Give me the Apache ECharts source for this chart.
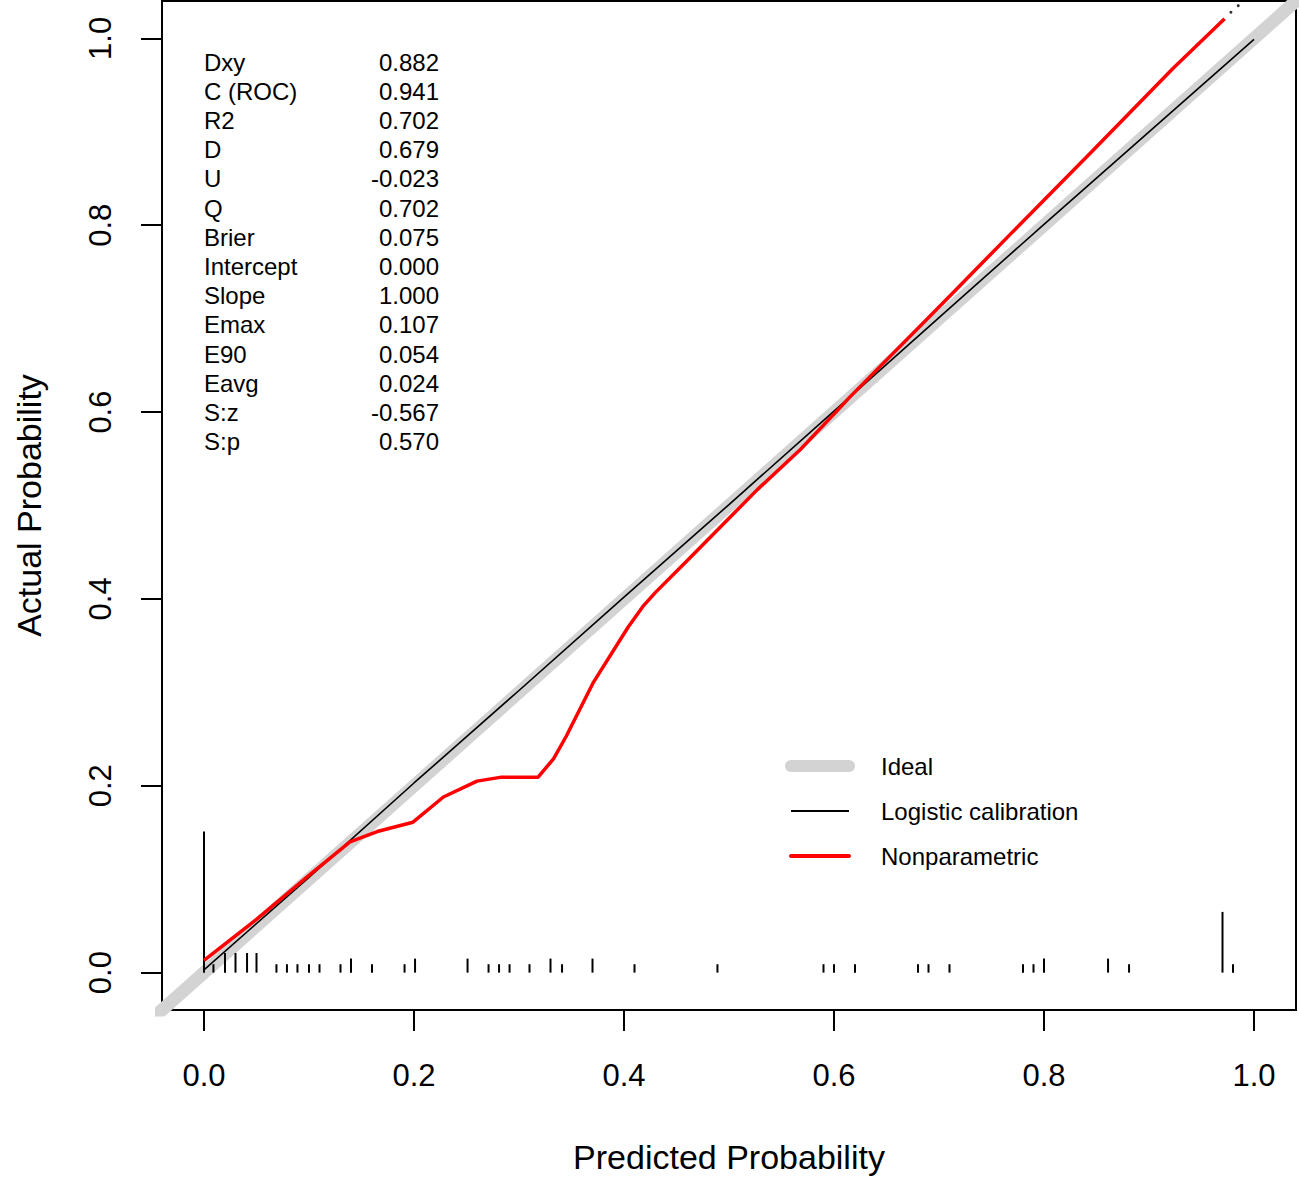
<!DOCTYPE html>
<html><head><meta charset="utf-8">
<script src="https://cdn.jsdelivr.net/npm/echarts@6/dist/echarts.min.js"></script>
<style>html,body{margin:0;padding:0;background:#fff}#c{width:1299px;height:1179px}</style>
</head><body><div id="c"></div>
<script>
// ---- data ----
const tickValues = [0, 0.2, 0.4, 0.6, 0.8, 1.0];
const idealX = [-0.05, 1.05];
const idealY = [-0.05, 1.05];
const logisticX = [0, 0.1, 0.2, 0.3, 0.4, 0.5, 0.6, 0.7, 0.8, 0.9, 1.0];
const logisticY = [0.003, 0.102, 0.203, 0.302, 0.402, 0.501, 0.601, 0.701, 0.801, 0.9, 0.999];
const nonparX = [0, 0.05, 0.1, 0.139, 0.165, 0.199, 0.228, 0.26, 0.282, 0.318, 0.333, 0.345, 0.371, 0.404, 0.418, 0.43, 0.461, 0.527, 0.568, 0.606, 0.615, 0.704, 0.765, 0.844, 0.923, 0.972];
const nonparY = [0.013, 0.057, 0.104, 0.14, 0.151, 0.161, 0.188, 0.205, 0.209, 0.209, 0.229, 0.253, 0.311, 0.37, 0.392, 0.407, 0.442, 0.517, 0.56, 0.605, 0.616, 0.717, 0.787, 0.877, 0.968, 1.021];
const tailX = [0.978, 0.985];
const tailY = [1.028, 1.035];
const rugX = [0.0, 0.009, 0.02, 0.03, 0.041, 0.05, 0.069, 0.079, 0.089, 0.1, 0.11, 0.13, 0.14, 0.16, 0.191, 0.201, 0.251, 0.271, 0.281, 0.291, 0.31, 0.33, 0.341, 0.37, 0.41, 0.489, 0.59, 0.6, 0.62, 0.68, 0.69, 0.71, 0.78, 0.79, 0.80, 0.861, 0.881, 0.97, 0.98];
const rugH = [0.151, 0.009, 0.021, 0.021, 0.021, 0.021, 0.009, 0.009, 0.009, 0.009, 0.009, 0.009, 0.015, 0.009, 0.009, 0.015, 0.015, 0.009, 0.009, 0.009, 0.009, 0.015, 0.009, 0.015, 0.009, 0.009, 0.009, 0.009, 0.009, 0.009, 0.009, 0.009, 0.009, 0.009, 0.015, 0.015, 0.009, 0.065, 0.009];
const statNames = ['Dxy', 'C (ROC)', 'R2', 'D', 'U', 'Q', 'Brier', 'Intercept', 'Slope', 'Emax', 'E90', 'Eavg', 'S:z', 'S:p'];
const statValues = ['0.882', '0.941', '0.702', '0.679', '-0.023', '0.702', '0.075', '0.000', '1.000', '0.107', '0.054', '0.024', '-0.567', '0.570'];
const legendNames = ['Ideal', 'Logistic calibration', 'Nonparametric'];
const xTitle = 'Predicted Probability';
const yTitle = 'Actual Probability';

// ---- chart ----
const FONT = "'Liberation Sans', Arial, sans-serif";
const zip = (a, b) => a.map((v, i) => [v, b[i]]);
const chart = echarts.init(document.getElementById('c'), null, {renderer: 'svg'});

const graphics = [];
statNames.forEach((n, i) => {
  const y = 62 + i * 29.2;
  graphics.push({type: 'text', left: 204, top: y - 12, style: {text: n, font: '24px ' + FONT, fill: '#000'}});
  graphics.push({type: 'text', x: 439, y: y, style: {text: statValues[i], font: '24px ' + FONT, fill: '#000', align: 'right', verticalAlign: 'middle'}});
});

const axisCommon = {
  type: 'value', min: -0.04, max: 1.04,
  splitLine: {show: false},
  axisLine: {show: false, onZero: false},
  axisTick: {show: true, customValues: tickValues, length: 21, lineStyle: {color: '#000', width: 2}},
  nameLocation: 'middle',
  nameTextStyle: {fontSize: 34, color: '#000', fontFamily: FONT}
};

const legendStyles = {
  'Ideal': {color: '#d3d3d3', width: 12, cap: 'round'},
  'Logistic calibration': {color: '#000', width: 1.8, cap: 'butt'},
  'Nonparametric': {color: '#ff0000', width: 4, cap: 'round'}
};

chart.setOption({
  animation: false,
  backgroundColor: '#fff',
  grid: {left: 162, top: 1, right: 3, bottom: 168, show: true, borderColor: '#000', borderWidth: 2, backgroundColor: 'transparent'},
  xAxis: Object.assign({}, axisCommon, {
    name: xTitle, nameGap: 130,
    axisLabel: {customValues: tickValues, formatter: v => v.toFixed(1), fontSize: 31, color: '#000', fontFamily: FONT, margin: 50}
  }),
  yAxis: Object.assign({}, axisCommon, {
    name: yTitle, nameGap: 116,
    axisLabel: {customValues: tickValues, formatter: v => v.toFixed(1), fontSize: 31, color: '#000', fontFamily: FONT, margin: 46, rotate: 90}
  }),
  legend: {
    data: legendNames.map(n => ({name: n, lineStyle: legendStyles[n]})),
    orient: 'vertical', left: 785, top: 754, padding: 0,
    itemWidth: 58, itemHeight: 14, itemGap: 21,
    itemStyle: {opacity: 0},
    textStyle: {fontSize: 24, color: '#000', fontFamily: FONT, padding: [0, 0, 0, 27]}
  },
  graphic: graphics,
  series: [
    {name: 'Ideal', type: 'line', data: zip(idealX, idealY), symbol: 'none', clip: true,
     lineStyle: {color: '#d3d3d3', width: 13, cap: 'round'}, z: 1},
    {name: 'Histogram', type: 'bar', data: zip(rugX, rugH), barWidth: 2, itemStyle: {color: '#000'}, z: 2},
    {name: 'Logistic calibration', type: 'line', data: zip(logisticX, logisticY), symbol: 'none',
     lineStyle: {color: '#000', width: 1.6}, z: 3},
    {name: 'Nonparametric', type: 'line', data: zip(nonparX, nonparY), symbol: 'none',
     lineStyle: {color: '#ff0000', width: 3.5}, z: 4},
    {name: 'tail', type: 'scatter', data: zip(tailX, tailY), symbolSize: 3, itemStyle: {color: '#000'}, z: 4}
  ]
});
</script></body></html>
